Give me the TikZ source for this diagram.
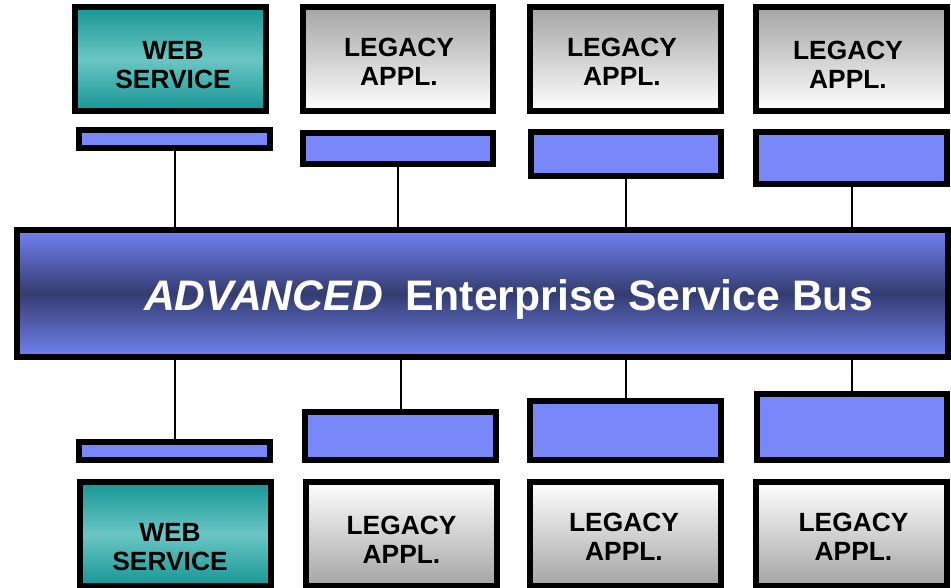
\documentclass[tikz,border=0pt]{standalone}
\usepackage{fontspec}
\setmainfont{Liberation Sans}

\definecolor{wsdark}{RGB}{22,150,148}
\definecolor{wslight}{RGB}{106,198,196}
\definecolor{lgray}{RGB}{164,164,164}
\definecolor{portblue}{RGB}{120,136,248}
\definecolor{busedge}{RGB}{114,130,242}
\definecolor{busmid}{RGB}{52,60,112}

\begin{document}
\begin{tikzpicture}[
    x=0.02cm, y=-0.02cm,
    box/.style={draw=black,line width=0.12cm,minimum width=3.82cm,minimum height=2.08cm,inner sep=0pt},
    web/.style={box,top color=wsdark,bottom color=wsdark,middle color=wslight},
    legacy up/.style={box,top color=lgray,bottom color=white},
    legacy down/.style={box,top color=white,bottom color=lgray},
    port/.style={draw=black,line width=0.12cm,fill=portblue,minimum width=3.82cm,inner sep=0pt},
    caption/.style={font=\fontsize{15}{16.5}\selectfont\bfseries,align=center},
    wire/.style={line width=0.04cm}
]
\useasboundingbox (0,0) rectangle (951,588);

% the bus
\node[draw=black,line width=0.12cm,minimum width=18.62cm,minimum height=2.54cm,
      top color=busedge,bottom color=busedge,middle color=busmid]
    (bus) at (482.5,293.5) {};
\node[text=white,text depth=0pt,font=\fontsize{24.3}{28}\selectfont\bfseries]
    (busText) at (508.5,295.5) {\textit{ADVANCED}\hspace{0.45cm}Enterprise Service Bus};

% upper applications
\node[web] (wsTop) at (170.5,59) {};
\node[legacy up] (lgTopA) at (398,59) {};
\node[legacy up] (lgTopB) at (625.5,59) {};
\node[legacy up] (lgTopC) at (851.5,59) {};
\node[caption] (wsTopText) at (173,65) {WEB\\SERVICE};
\node[caption] (lgTopAText) at (399,62) {LEGACY\\APPL.};
\node[caption] (lgTopBText) at (622,62) {LEGACY\\APPL.};
\node[caption] (lgTopCText) at (848,65) {LEGACY\\APPL.};

% upper adapters
\node[port,minimum height=0.36cm] (wsTopPort) at (174.5,139) {};
\node[port,minimum height=0.62cm] (lgTopAPort) at (398,148.5) {};
\node[port,minimum height=0.88cm] (lgTopBPort) at (626,154) {};
\node[port,minimum height=1.04cm] (lgTopCPort) at (851.5,158) {};

% lower adapters
\node[port,minimum height=0.36cm] (wsBotPort) at (174.5,451) {};
\node[port,minimum height=0.96cm] (lgBotAPort) at (400.5,436) {};
\node[port,minimum height=1.18cm] (lgBotBPort) at (625.5,430.5) {};
\node[port,minimum height=1.32cm] (lgBotCPort) at (852,427) {};

% lower applications
\node[web] (wsBot) at (175.5,534) {};
\node[legacy down] (lgBotA) at (401.5,534) {};
\node[legacy down] (lgBotB) at (625.5,534) {};
\node[legacy down] (lgBotC) at (851.5,534) {};
\node[caption] (wsBotText) at (170,547.5) {WEB\\SERVICE};
\node[caption] (lgBotAText) at (401.5,539.5) {LEGACY\\APPL.};
\node[caption] (lgBotBText) at (624,537) {LEGACY\\APPL.};
\node[caption] (lgBotCText) at (853.5,537) {LEGACY\\APPL.};

% links to the bus
\draw[wire] (wsTopPort) -- (wsTopPort |- bus.north);
\draw[wire] (lgTopAPort) -- (lgTopAPort |- bus.north);
\draw[wire] (lgTopBPort) -- (lgTopBPort |- bus.north);
\draw[wire] (lgTopCPort) -- (lgTopCPort |- bus.north);
\draw[wire] (bus.south -| wsBotPort) -- (wsBotPort);
\draw[wire] (bus.south -| lgBotAPort) -- (lgBotAPort);
\draw[wire] (bus.south -| lgBotBPort) -- (lgBotBPort);
\draw[wire] (bus.south -| lgBotCPort) -- (lgBotCPort);
\end{tikzpicture}
\end{document}
